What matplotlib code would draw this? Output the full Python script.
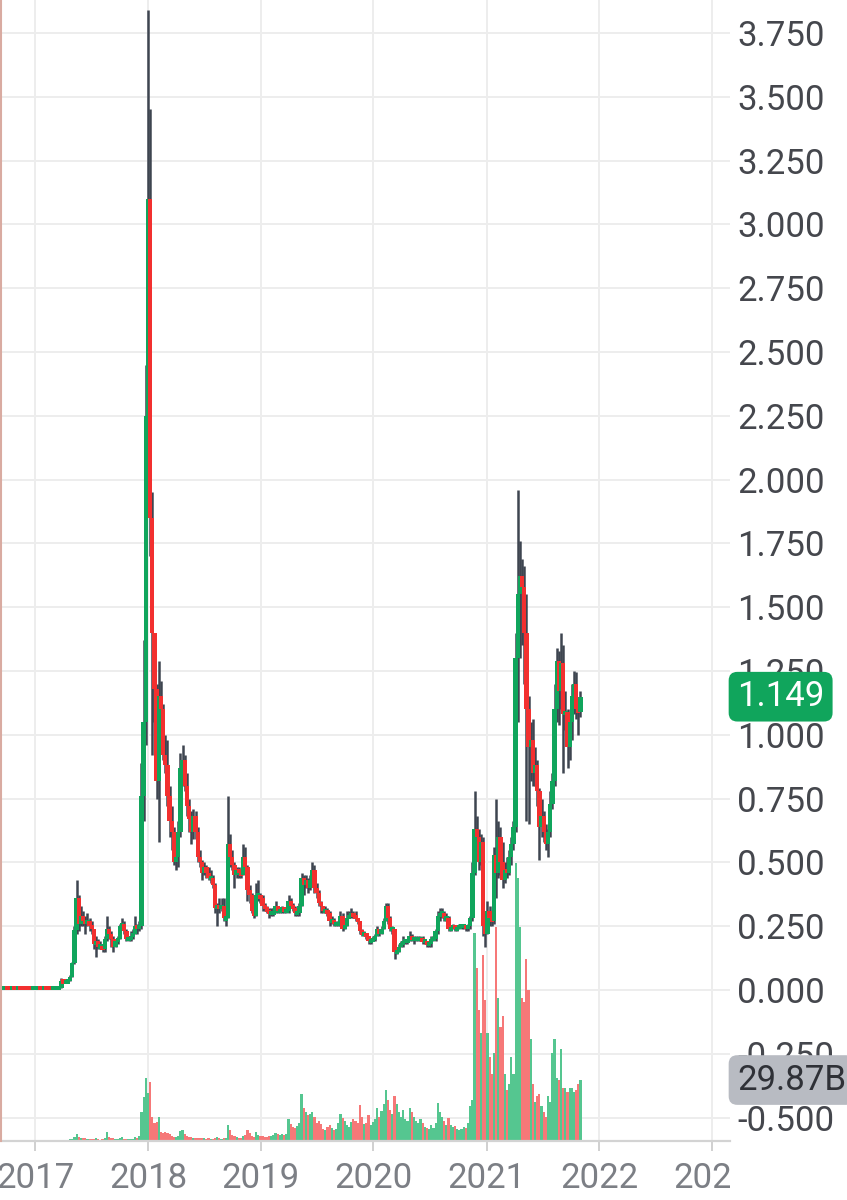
import datetime
import pandas as pd
import matplotlib
matplotlib.use("Agg")
import matplotlib.pyplot as plt
from matplotlib.transforms import blended_transform_factory, Bbox, TransformedBbox
from matplotlib.lines import Line2D

# weekly XRP candles, first week starting 2016-09-12
start_week = "2016-09-12"
first_open = 0.0063

close = [
    # 2016
    0.0066, 0.0070, 0.0072, 0.0069, 0.0068, 0.0074, 0.0071, 0.0068, 0.0080, 0.0078, 0.0075, 0.0072, 0.0068, 0.0065, 0.0063, 0.0064,
    # 2017
    0.0064, 0.0070, 0.0066, 0.0063, 0.0066, 0.0062, 0.0060, 0.0059, 0.0062, 0.0067, 0.0070, 0.0089,
    0.035, 0.031, 0.032, 0.034, 0.050, 0.105, 0.235, 0.36, 0.26, 0.29,
    0.27, 0.26, 0.27, 0.25, 0.24, 0.18, 0.19, 0.17, 0.17, 0.16,
    0.20, 0.24, 0.22, 0.20, 0.17, 0.19, 0.20, 0.25, 0.26, 0.23,
    0.20, 0.20, 0.21, 0.22, 0.25, 0.24, 0.25, 0.76, 1.05, 2.25,
    # 2018
    3.10, 1.85, 1.40, 1.18, 0.82, 1.15, 1.10, 0.92, 0.88, 0.76,
    0.66, 0.62, 0.50, 0.52, 0.62, 0.87, 0.90, 0.80, 0.72, 0.67,
    0.62, 0.68, 0.62, 0.52, 0.50, 0.46, 0.48, 0.46, 0.44, 0.44,
    0.41, 0.32, 0.33, 0.32, 0.33, 0.28, 0.28, 0.57, 0.52, 0.49,
    0.45, 0.47, 0.46, 0.45, 0.52, 0.48, 0.39, 0.37, 0.31, 0.29,
    0.37, 0.37, 0.36,
    # 2019
    0.33, 0.32, 0.31, 0.30, 0.30, 0.30, 0.33, 0.31, 0.31, 0.32,
    0.31, 0.31, 0.35, 0.33, 0.32, 0.30, 0.30, 0.33, 0.44, 0.41,
    0.43, 0.40, 0.43, 0.47, 0.40, 0.38, 0.34, 0.33, 0.31, 0.31,
    0.30, 0.27, 0.27, 0.26, 0.26, 0.26, 0.29, 0.24, 0.25, 0.28,
    0.29, 0.30, 0.29, 0.28, 0.27, 0.23, 0.22, 0.22, 0.21, 0.19,
    0.19, 0.20,
    # 2020
    0.21, 0.24, 0.22, 0.24, 0.27, 0.33, 0.28, 0.24, 0.24, 0.15,
    0.15, 0.17, 0.18, 0.19, 0.19, 0.19, 0.21, 0.20, 0.20, 0.20,
    0.20, 0.20, 0.19, 0.19, 0.18, 0.18, 0.20, 0.20, 0.23, 0.29,
    0.30, 0.30, 0.28, 0.28, 0.24, 0.24, 0.25, 0.24, 0.24, 0.25,
    0.25, 0.25, 0.24, 0.25, 0.28, 0.46, 0.63, 0.60, 0.50, 0.58,
    0.25, 0.22,
    # 2021
    0.31, 0.28, 0.27, 0.53, 0.46, 0.60, 0.50, 0.43, 0.47, 0.46,
    0.52, 0.57, 0.64, 1.30, 1.55, 1.62, 1.58, 1.40, 1.10, 0.95,
    0.98, 0.85, 0.88, 0.78, 0.64, 0.68, 0.62, 0.57, 0.62, 0.73,
    0.82, 1.10, 1.29, 1.17, 1.28, 1.08, 1.09, 0.95, 1.05, 1.15,
    1.20, 1.10, 1.09, 1.149,
]

high = [
    # 2016
    0.0069, 0.0073, 0.0075, 0.0073, 0.0071, 0.0077, 0.0076, 0.0072, 0.0095, 0.0085, 0.0079, 0.0076, 0.0072, 0.0069, 0.0067, 0.0066,
    # 2017
    0.0067, 0.0072, 0.0072, 0.0068, 0.0068, 0.0067, 0.0064, 0.0063, 0.0065, 0.0070, 0.0075, 0.0110,
    0.045, 0.038, 0.035, 0.037, 0.058, 0.110, 0.250, 0.43, 0.37, 0.33,
    0.31, 0.29, 0.30, 0.28, 0.27, 0.24, 0.21, 0.20, 0.19, 0.18,
    0.21, 0.29, 0.25, 0.23, 0.21, 0.20, 0.21, 0.26, 0.28, 0.27,
    0.24, 0.21, 0.23, 0.24, 0.29, 0.26, 0.27, 0.89, 1.37, 2.45,
    # 2018
    3.84, 3.45, 1.95, 1.40, 1.20, 1.29, 1.21, 1.12, 1.00, 0.98,
    0.80, 0.72, 0.64, 0.55, 0.66, 0.93, 0.96, 0.92, 0.85, 0.75,
    0.70, 0.71, 0.70, 0.64, 0.55, 0.51, 0.50, 0.49, 0.48, 0.47,
    0.45, 0.42, 0.34, 0.36, 0.36, 0.36, 0.30, 0.76, 0.61, 0.55,
    0.50, 0.48, 0.48, 0.47, 0.57, 0.56, 0.49, 0.41, 0.38, 0.32,
    0.42, 0.43, 0.38,
    # 2019
    0.37, 0.34, 0.33, 0.32, 0.32, 0.32, 0.35, 0.33, 0.32, 0.33,
    0.32, 0.32, 0.37, 0.36, 0.34, 0.33, 0.31, 0.34, 0.46, 0.45,
    0.45, 0.44, 0.45, 0.50, 0.49, 0.42, 0.39, 0.35, 0.33, 0.33,
    0.32, 0.31, 0.29, 0.28, 0.27, 0.27, 0.31, 0.30, 0.26, 0.31,
    0.31, 0.32, 0.31, 0.31, 0.28, 0.27, 0.24, 0.23, 0.22, 0.21,
    0.20, 0.21,
    # 2020
    0.22, 0.25, 0.24, 0.25, 0.28, 0.34, 0.34, 0.29, 0.25, 0.24,
    0.17, 0.18, 0.19, 0.21, 0.20, 0.20, 0.23, 0.22, 0.21, 0.21,
    0.21, 0.21, 0.21, 0.20, 0.19, 0.19, 0.21, 0.21, 0.24, 0.31,
    0.32, 0.32, 0.31, 0.30, 0.29, 0.25, 0.26, 0.25, 0.25, 0.26,
    0.26, 0.26, 0.25, 0.26, 0.29, 0.50, 0.78, 0.68, 0.63, 0.61,
    0.60, 0.30,
    # 2021
    0.35, 0.33, 0.30, 0.56, 0.75, 0.66, 0.64, 0.58, 0.50, 0.52,
    0.55, 0.60, 0.66, 1.40, 1.96, 1.76, 1.69, 1.66, 1.55, 1.15,
    1.05, 1.06, 0.95, 0.90, 0.79, 0.75, 0.70, 0.65, 0.63, 0.78,
    0.85, 1.20, 1.34, 1.33, 1.40, 1.35, 1.17, 1.10, 1.08, 1.20,
    1.25, 1.245, 1.14, 1.17,
]

low = [
    # 2016
    0.0061, 0.0064, 0.0068, 0.0066, 0.0065, 0.0067, 0.0068, 0.0065, 0.0067, 0.0074, 0.0071, 0.0069, 0.0064, 0.0062, 0.0059, 0.0060,
    # 2017
    0.0060, 0.0062, 0.0064, 0.0062, 0.0061, 0.0061, 0.0059, 0.0058, 0.0058, 0.0060, 0.0066, 0.0070,
    0.0088, 0.027, 0.028, 0.030, 0.034, 0.050, 0.10, 0.22, 0.23, 0.25,
    0.25, 0.22, 0.25, 0.23, 0.22, 0.16, 0.13, 0.16, 0.16, 0.15,
    0.15, 0.19, 0.20, 0.17, 0.15, 0.17, 0.18, 0.20, 0.24, 0.22,
    0.19, 0.19, 0.19, 0.20, 0.22, 0.22, 0.23, 0.24, 0.66, 0.96,
    # 2018
    2.20, 1.70, 0.92, 1.05, 0.75, 0.58, 0.98, 0.90, 0.85, 0.72,
    0.60, 0.55, 0.49, 0.47, 0.48, 0.60, 0.80, 0.78, 0.68, 0.62,
    0.57, 0.59, 0.59, 0.50, 0.48, 0.43, 0.45, 0.44, 0.43, 0.42,
    0.40, 0.30, 0.25, 0.30, 0.31, 0.27, 0.25, 0.28, 0.48, 0.47,
    0.40, 0.44, 0.44, 0.44, 0.45, 0.46, 0.35, 0.34, 0.30, 0.28,
    0.29, 0.35, 0.34,
    # 2019
    0.31, 0.31, 0.30, 0.28, 0.29, 0.29, 0.30, 0.30, 0.30, 0.30,
    0.30, 0.30, 0.30, 0.32, 0.31, 0.29, 0.29, 0.29, 0.33, 0.37,
    0.40, 0.38, 0.39, 0.42, 0.38, 0.36, 0.33, 0.30, 0.30, 0.30,
    0.29, 0.25, 0.26, 0.25, 0.25, 0.25, 0.25, 0.23, 0.24, 0.25,
    0.28, 0.28, 0.28, 0.27, 0.26, 0.22, 0.21, 0.21, 0.20, 0.18,
    0.18, 0.19,
    # 2020
    0.19, 0.21, 0.21, 0.22, 0.24, 0.27, 0.26, 0.23, 0.22, 0.12,
    0.14, 0.15, 0.17, 0.17, 0.18, 0.18, 0.19, 0.19, 0.18, 0.19,
    0.19, 0.19, 0.18, 0.18, 0.17, 0.17, 0.17, 0.19, 0.19, 0.22,
    0.27, 0.28, 0.27, 0.27, 0.23, 0.23, 0.24, 0.23, 0.23, 0.24,
    0.24, 0.24, 0.23, 0.23, 0.24, 0.27, 0.45, 0.55, 0.47, 0.49,
    0.21, 0.17,
    # 2021
    0.22, 0.25, 0.25, 0.26, 0.36, 0.44, 0.45, 0.40, 0.42, 0.44,
    0.45, 0.49, 0.55, 0.62, 1.05, 1.30, 1.35, 1.20, 0.66, 0.65,
    0.82, 0.80, 0.80, 0.72, 0.51, 0.60, 0.58, 0.55, 0.52, 0.60,
    0.71, 0.80, 1.05, 1.04, 1.10, 0.85, 1.02, 0.87, 0.90, 0.98,
    1.08, 1.06, 1.00, 1.07,
]

# weekly volume, billions
volume = [
    # 2016
    0.02, 0.03, 0.03, 0.02, 0.03, 0.04, 0.03, 0.03, 0.05, 0.04, 0.03, 0.03, 0.02, 0.03, 0.03, 0.02,
    # 2017
    0.03, 0.04, 0.03, 0.03, 0.02, 0.03, 0.03, 0.04, 0.05, 0.06, 0.08, 0.2,
    0.6, 0.4, 0.3, 0.4, 0.8, 1.2, 2.0, 3.5, 2.2, 1.6,
    1.4, 1.5, 1.2, 1.0, 0.9, 1.2, 1.3, 0.8, 0.7, 0.8,
    1.5, 4.5, 1.8, 1.5, 1.4, 0.9, 0.8, 1.6, 1.8, 1.2,
    1.0, 0.9, 1.1, 1.2, 2.0, 1.6, 2.5, 14.0, 21.5, 31.0,
    # 2018
    23.5, 29.0, 12.0, 9.0, 9.5, 12.0, 4.5, 4.0, 4.5, 4.0,
    3.5, 2.5, 2.0, 2.0, 2.5, 5.0, 5.5, 3.5, 2.5, 2.0,
    1.8, 1.5, 1.5, 1.6, 1.4, 1.5, 1.3, 1.2, 1.3, 1.2,
    1.1, 1.5, 2.0, 1.3, 1.2, 1.4, 1.5, 8.0, 5.5, 3.0,
    2.5, 2.0, 1.5, 1.6, 2.5, 3.0, 5.5, 4.0, 2.5, 2.2,
    4.5, 3.0, 2.5,
    # 2019
    2.5, 2.2, 2.0, 2.3, 2.5, 2.8, 4.0, 3.5, 3.0, 3.2,
    2.8, 3.5, 11.0, 8.5, 7.0, 6.5, 7.5, 9.0, 23.0, 16.0,
    14.0, 12.5, 13.0, 14.0, 12.0, 9.0, 10.0, 8.5, 6.0, 5.5,
    7.0, 8.0, 6.5, 5.5, 6.0, 9.0, 13.0, 11.5, 10.0, 8.0,
    7.0, 9.5, 11.0, 10.0, 9.0, 17.5, 12.0, 8.5, 9.0, 12.5,
    8.0, 9.5,
    # 2020
    11.0, 16.0, 12.0, 14.5, 18.0, 25.0, 20.0, 15.0, 13.0, 22.0,
    18.0, 14.0, 12.0, 15.0, 11.0, 10.0, 16.0, 14.0, 12.0, 10.0,
    9.0, 11.0, 9.0, 7.0, 6.5, 6.0, 8.0, 6.5, 9.0, 18.5,
    14.0, 12.0, 10.0, 8.0, 11.5, 8.0, 7.0, 7.5, 6.0, 5.5,
    6.0, 7.0, 6.5, 9.0, 17.0, 20.0, 102.0, 85.0, 64.0, 53.0,
    91.0, 69.0,
    # 2021
    53.0, 41.0, 33.0, 43.0, 105.0, 70.0, 56.0, 61.0, 33.0, 25.0,
    28.0, 41.0, 33.0, 136.0, 129.0, 105.0, 70.0, 68.0, 89.0, 74.0,
    50.0, 28.0, 19.0, 22.0, 23.0, 17.0, 14.0, 12.0, 22.0, 19.0,
    43.0, 50.0, 31.0, 30.0, 45.0, 26.0, 26.0, 24.0, 26.0, 26.0,
    24.0, 25.0, 28.0, 29.87,
]

year_ticks = [2017, 2018, 2019, 2020, 2021, 2022, 2023]
price_ticks = [-0.5, -0.25, 0.0, 0.25, 0.5, 0.75, 1.0, 1.25, 1.5, 1.75,
               2.0, 2.25, 2.5, 2.75, 3.0, 3.25, 3.5, 3.75]

plt.rcParams['font.family'] = ['Roboto', 'DejaVu Sans']

GREEN = '#10a55c'
RED = '#f2302f'
WICK = '#3e4550'
VOL_GREEN = '#55c690'
VOL_RED = '#f67878'
GRID = '#ededed'

weeks = pd.date_range(start_week, periods=len(close), freq="7D")
opens = [first_open] + close[:-1]
up = [c >= o for o, c in zip(opens, close)]

body_h = [max(abs(c - o), 0.016) for o, c in zip(opens, close)]
body_b = [min(o, c) - (h - abs(c - o)) / 2 for o, c, h in zip(opens, close, body_h)]
year_dates = [pd.Timestamp(f"{y}-01-01") for y in year_ticks]

fig = plt.figure(figsize=(8.47, 12), dpi=100)
ax = fig.add_axes([0, 59 / 1200, 730 / 847, 1141 / 1200])
vol = ax.twinx()
vol.set_zorder(0.5)
ax.set_zorder(1)
ax.patch.set_visible(False)

# grid goes on the bottom layer so the volume bars cover it
price_grid = blended_transform_factory(vol.transAxes, ax.transData)
for p in price_ticks:
    vol.add_line(Line2D([0, 1], [p, p], transform=price_grid, color=GRID,
                        linewidth=1.4, zorder=0))
for d in year_dates:
    vol.axvline(d, color=GRID, linewidth=1.4, zorder=0)

# volume
vol.bar(weeks, volume, width=datetime.timedelta(days=7),
        color=[VOL_GREEN if u else VOL_RED for u in up], linewidth=0, zorder=2)
vol.set_ylim(0, 559)
vol.set_yticks([])
for s in vol.spines.values():
    s.set_visible(False)

# candles
ax.vlines(weeks, low, high, color=WICK, linewidth=1.8, zorder=3)
ax.bar(weeks, body_h, bottom=body_b, width=datetime.timedelta(days=14),
       color=[GREEN if u else RED for u in up], linewidth=0, zorder=4)

ax.set_ylim(-0.592, 3.879)
ax.set_xlim(pd.Timestamp("2016-09-09"), pd.Timestamp("2023-02-28"))

ax.yaxis.tick_right()
ax.set_yticks(price_ticks)
ax.set_yticklabels([f"{t:.3f}" for t in price_ticks])
ax.set_xticks(year_dates)
ax.set_xticklabels([str(y) for y in year_ticks])

ax.tick_params(axis='y', length=0, pad=5, labelsize=25, labelcolor='#45474d')
ax.tick_params(axis='x', length=7, width=1.4, color='#d0d0d0', pad=8,
               labelsize=25, labelcolor='#7c7f85')
for side in ['top', 'left', 'right']:
    ax.spines[side].set_visible(False)
ax.spines['bottom'].set_color('#d3d3d3')
ax.spines['bottom'].set_linewidth(1.6)

# the last year label is cut at the price panel
clip = TransformedBbox(Bbox([[0, 0], [730 / 847, 1]]), fig.transFigure)
for lbl in ax.get_xticklabels():
    lbl.set_clip_box(clip)
    lbl.set_clip_on(True)

# last price / last volume badges
tp = blended_transform_factory(fig.transFigure, ax.transData)
fig.text(737 / 847, close[-1], f"{close[-1]:.3f}", transform=tp, ha='left', va='center',
         fontsize=25, color='white', zorder=10,
         bbox=dict(boxstyle='round,pad=0.24,rounding_size=0.25', fc=GREEN, ec='none'))
tv = blended_transform_factory(fig.transFigure, vol.transData)
fig.text(737 / 847, volume[-1], f"{volume[-1]:.2f}B", transform=tv, ha='left', va='center',
         fontsize=25, color='#2f3137', zorder=10,
         bbox=dict(boxstyle='round,pad=0.24,rounding_size=0.25', fc='#b8bbc2', ec='none'))

fig.add_artist(Line2D([0.0008, 0.0008], [59 / 1200, 1], transform=fig.transFigure,
                      color='#d9aba1', linewidth=1.5))

fig.savefig("out.png", dpi=100, facecolor='white')
